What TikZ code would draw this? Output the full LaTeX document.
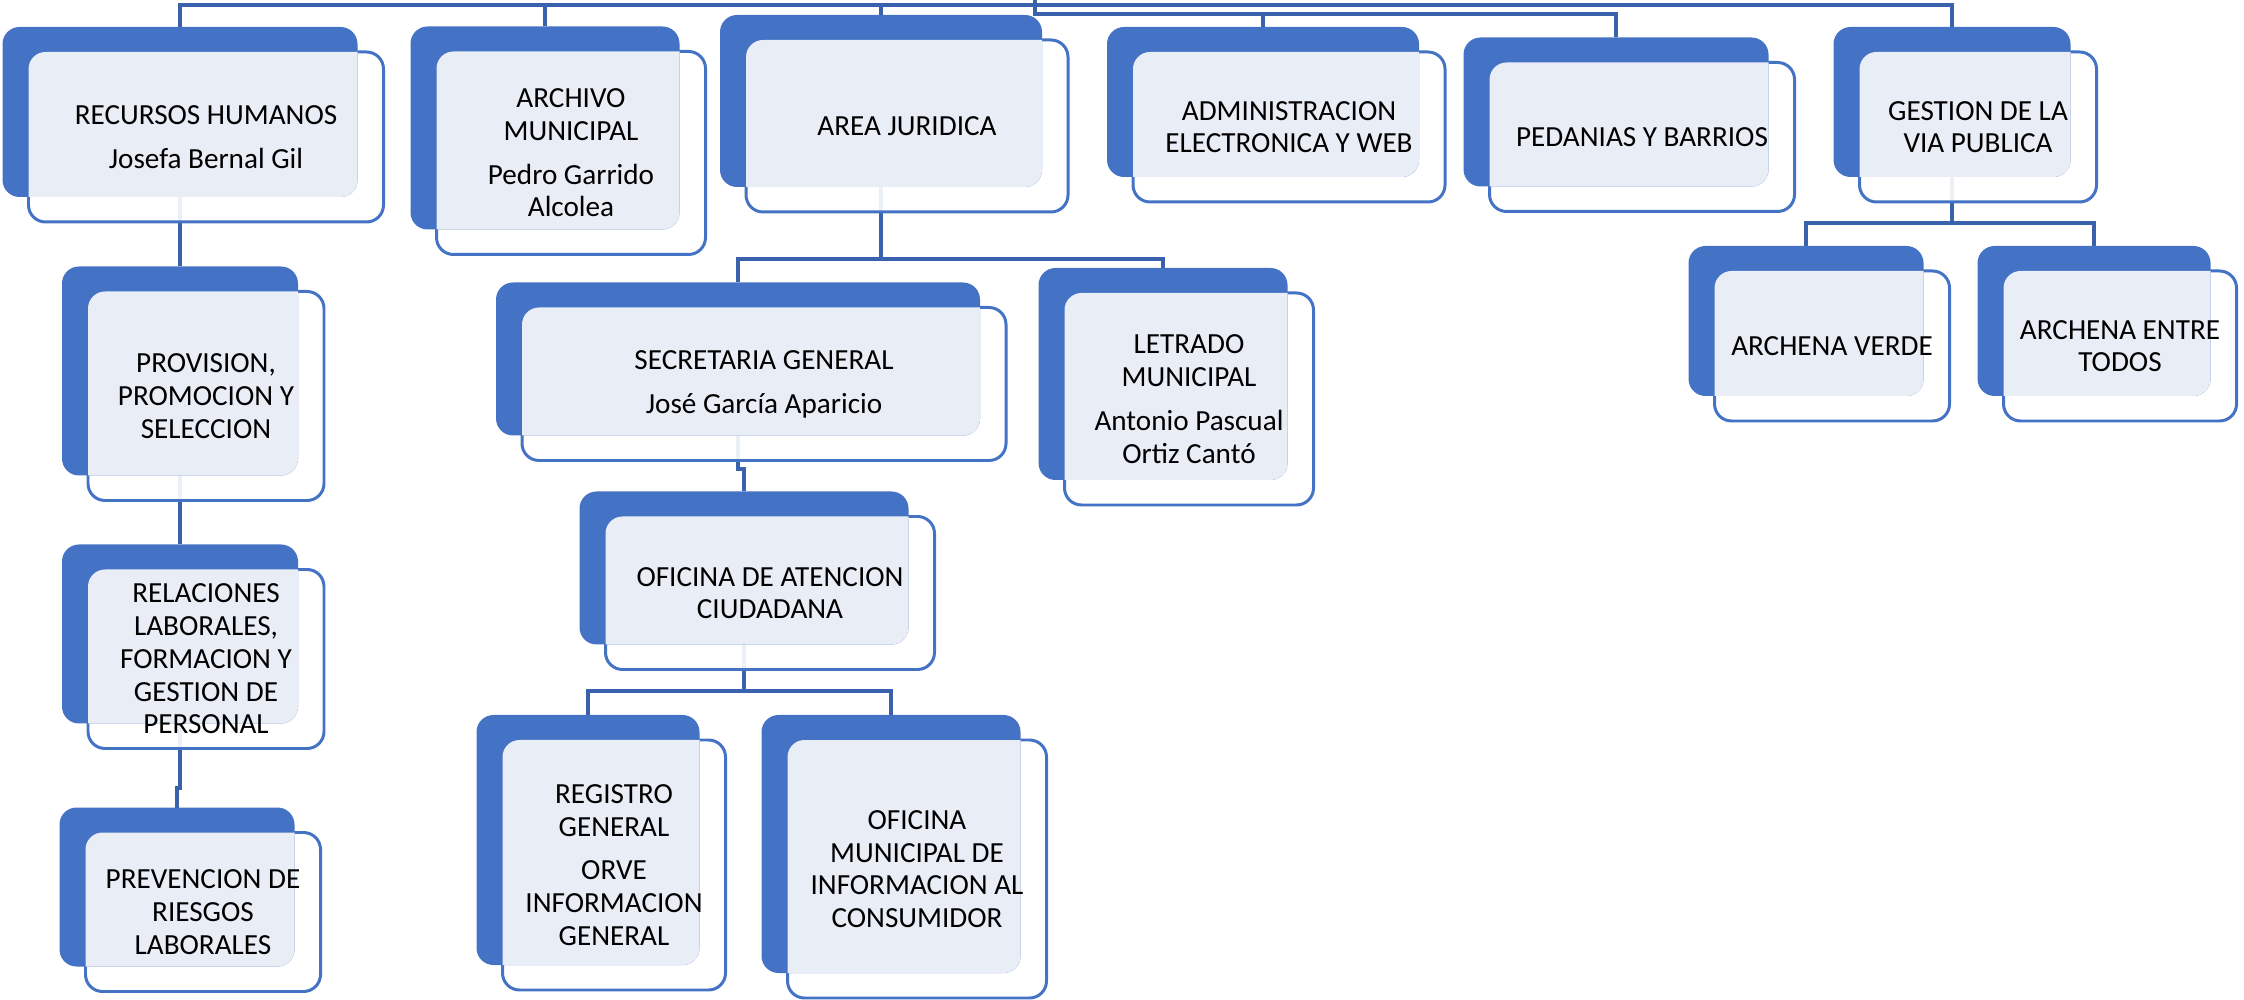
\documentclass[tikz,border=0pt]{standalone}
\usepackage{fontspec}
\setmainfont{Carlito}
\usetikzlibrary{backgrounds}

\definecolor{azul}{HTML}{4472C4}
\definecolor{claro}{HTML}{E9EDF6}
\definecolor{lineaazul}{HTML}{3A62AC}

\newcommand{\caja}[6]{%
\draw (#2,#3) node[cajablanca, minimum width=#4cm, minimum height=#5cm] (#1w) {};
\draw (#2-0.26,#3+0.25) node[cajaazul, minimum width=#4cm, minimum height=#5cm] (#1) {};
\begin{scope}
\clip[rounded corners=0.17cm] (#1w.south west) rectangle (#1w.north east);
\fill[claro, rounded corners=0.17cm] (#1.south west) rectangle (#1.north east);
\end{scope}
\draw (#2,#3) node[texto] (#1t) {#6};
}

\begin{document}
\begin{tikzpicture}[
  cajablanca/.style={draw=azul, line width=0.85pt, fill=white, fill opacity=0.9, rounded corners=0.17cm, inner sep=0, outer sep=0},
  cajaazul/.style={fill=azul, rounded corners=0.17cm, inner sep=0, outer sep=0},
  texto/.style={align=center, inner sep=0, font=\fontsize{8.3}{9.3}\selectfont},
  linea/.style={draw=lineaazul, line width=0.9pt}]
\useasboundingbox (0,0) rectangle (22.44,-10);

\caja{RH}{2.06}{-1.37}{3.55}{1.70}{RECURSOS HUMANOS\\[3.2pt]Josefa Bernal Gil}
\caja{ARCH}{5.71}{-1.53}{2.69}{2.03}{ARCHIVO\\MUNICIPAL\\[3.2pt]Pedro Garrido\\Alcolea}
\caja{AJ}{9.07}{-1.26}{3.22}{1.72}{AREA JURIDICA}
\caja{ADM}{12.89}{-1.27}{3.12}{1.50}{ADMINISTRACION\\ELECTRONICA Y WEB}
\caja{PED}{16.42}{-1.37}{3.05}{1.49}{PEDANIAS Y BARRIOS}
\caja{GVP}{19.78}{-1.27}{2.37}{1.50}{GESTION DE LA\\VIA PUBLICA}
\caja{PROV}{2.06}{-3.96}{2.36}{2.09}{PROVISION,\\PROMOCION Y\\SELECCION}
\caja{RELA}{2.06}{-6.59}{2.36}{1.79}{RELACIONES\\LABORALES,\\FORMACION Y\\GESTION DE\\PERSONAL}
\caja{PREV}{2.03}{-9.12}{2.35}{1.59}{PREVENCION DE\\RIESGOS\\LABORALES}
\caja{SG}{7.64}{-3.84}{4.84}{1.53}{SECRETARIA GENERAL\\[3.2pt]José García Aparicio}
\caja{LET}{11.89}{-3.99}{2.49}{2.12}{LETRADO\\MUNICIPAL\\[3.2pt]Antonio Pascual\\Ortiz Cantó}
\caja{OAC}{7.70}{-5.93}{3.29}{1.53}{OFICINA DE ATENCION\\CIUDADANA}
\caja{REG}{6.14}{-8.65}{2.23}{2.50}{REGISTRO\\GENERAL\\[3.2pt]ORVE\\INFORMACION\\GENERAL}
\caja{OMIC}{9.17}{-8.69}{2.59}{2.58}{OFICINA\\MUNICIPAL DE\\INFORMACION AL\\CONSUMIDOR}
\caja{AV}{18.32}{-3.46}{2.35}{1.50}{ARCHENA VERDE}
\caja{AET}{21.20}{-3.46}{2.33}{1.50}{ARCHENA ENTRE\\TODOS}

\begin{pgfonlayer}{background}
\coordinate (raiz) at (10.35,0);
\draw[linea] (RH.north) -- (RH.north |- 0,-0.05) -- (GVP.north |- 0,-0.05) -- (GVP.north);
\draw[linea] (ARCH.north) -- (ARCH.north |- 0,-0.05);
\draw[linea] (AJ.north) -- (AJ.north |- 0,-0.05);
\draw[linea] (raiz) -- (raiz |- 0,-0.14) -| (PED.north);
\draw[linea] (ADM.north) -- (ADM.north |- 0,-0.14);
\draw[linea] (RH.south) -- (PROV.north);
\draw[linea] (PROV.south) -- (RELA.north);
\draw[linea] (RELA.south) -- (RELA.south |- 0,-7.88) -| (PREV.north);
\draw[linea] (AJ.south) -- (AJ.south |- 0,-2.59) -| (SG.north);
\draw[linea] (AJ.south |- 0,-2.59) -| (LET.north);
\draw[linea] (SG.south) -- (SG.south |- 0,-4.69) -| (OAC.north);
\draw[linea] (OAC.south) -- (OAC.south |- 0,-6.91) -| (REG.north);
\draw[linea] (OAC.south |- 0,-6.91) -| (OMIC.north);
\draw[linea] (GVP.south) -- (GVP.south |- 0,-2.23) -| (AV.north);
\draw[linea] (GVP.south |- 0,-2.23) -| (AET.north);
\end{pgfonlayer}
\end{tikzpicture}
\end{document}
